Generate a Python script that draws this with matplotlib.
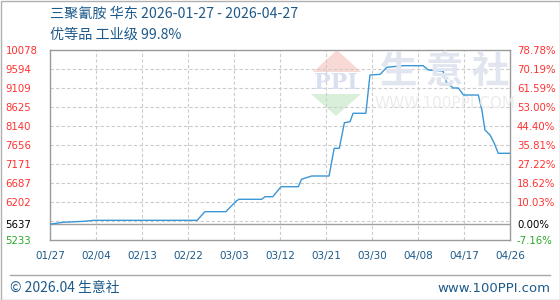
import matplotlib
matplotlib.use("Agg")
import matplotlib.pyplot as plt
from matplotlib.patches import Polygon, Rectangle
from matplotlib.lines import Line2D
import numpy as np

plt.rcParams['font.family'] = ['Noto Sans CJK SC', 'DejaVu Sans']

# ---- data ----
title_line1 = "三聚氰胺 华东 2026-01-27 - 2026-04-27"
title_line2 = "优等品 工业级 99.8%"
x_labels = ["01/27", "02/04", "02/13", "02/22", "03/03", "03/12",
            "03/21", "03/30", "04/08", "04/17", "04/26"]
x_tick_days = [0, 9, 18, 27, 36, 45, 54, 63, 72, 81, 90]
days = [0, 1.6, 2.5, 6.7, 8.6, 28.8, 30.3, 34.4, 36.5, 37.0, 41.4, 42.1,
        43.6, 45.2, 48.6, 49.2, 51.2, 54.6, 55.6, 56.6, 57.6, 58.7, 59.3,
        61.8, 62.6, 64.6, 65.9, 69.1, 73.0, 74.0, 76.9, 77.6, 78.9, 79.9,
        80.9, 83.8, 84.5, 85.1, 86.1, 86.9, 87.7, 90]
prices = [5637, 5666, 5684, 5710, 5735, 5735, 5955, 5955, 6235, 6271, 6271,
          6337, 6337, 6592, 6592, 6781, 6865, 6865, 7571, 7571, 8224, 8250,
          8464, 8464, 9440, 9458, 9637, 9678, 9678, 9568, 9543, 9244, 9109,
          9109, 8930, 8930, 8548, 8038, 7910, 7706, 7444, 7444]
base_price = 5637
y_min, y_max = 5233, 10078
left_ticks = [10078, 9594, 9109, 8625, 8140, 7656, 7171, 6687, 6202, 5637, 5233]
left_labels = ["10078", "9594", "9109", "8625", "8140", "7656", "7171",
               "6687", "6202", "5637", "5233"]
right_labels = ["78.78%", "70.19%", "61.59%", "53.00%", "44.40%", "35.81%",
                "27.22%", "18.62%", "10.03%", "0.00%", "-7.16%"]

# ---- figure ----
W, H = 560, 300
fig = plt.figure(figsize=(W / 100, H / 100), dpi=100)
fig.patch.set_facecolor("white")
ax = fig.add_axes([50 / W, 60 / H, 460 / W, 190 / H])

blue_text = "#1d5a8a"
red = "#ff3030"
green = "#2aa82a"

# watermark
wm_tr = fig.transFigure
def px(x, y):
    return (x / W, 1 - y / H)
ax.add_patch(Polygon([px(313, 72), px(337, 50), px(361, 72)], closed=True,
                     transform=wm_tr, facecolor="#f9d9d6", edgecolor="none", zorder=0))
ax.add_patch(Polygon([px(311, 94), px(361, 94), px(336, 116)], closed=True,
                     transform=wm_tr, facecolor="#d9efd9", edgecolor="none", zorder=0))
fig.text(336 / W, 1 - 83 / H, "PPI", fontsize=16, color="#d8dff0",
         family="DejaVu Serif", fontweight="bold", ha="center", va="center", zorder=0)
fig.text(445 / W, 1 - 71 / H, "生 意 社", fontsize=27, color="#e0e5ef",
         fontweight="bold", ha="center", va="center", zorder=0)
fig.text(445 / W, 1 - 104 / H, "WWW.100PPI.COM", fontsize=11, color="#ececec",
         family="DejaVu Sans", ha="center", va="center", zorder=0)
ax.set_facecolor("none")

# grid
for lv in np.linspace(y_min, y_max, 11)[1:-1]:
    ax.axhline(lv, color="#cccccc", lw=0.8, ls=(0, (3, 2)), zorder=1)
for d in x_tick_days[1:-1]:
    ax.axvline(d, color="#cccccc", lw=0.8, ls=(0, (3, 2)), zorder=1)
ax.axhline(base_price, color="#a0a0a0", lw=1.0, zorder=1)

ax.plot(days, prices, color="#3a96d6", lw=1.0, zorder=3)

ax.set_xlim(0, 90)
ax.set_ylim(y_min, y_max)
for s in ax.spines.values():
    s.set_color("#9a9a9a")
    s.set_linewidth(1.0)

ax.set_xticks(x_tick_days)
ax.set_xticklabels(x_labels, fontsize=7.5, color=blue_text, family="DejaVu Sans")
ax.tick_params(axis="x", length=0, pad=8)

ax.set_yticks(left_ticks)
ax.set_yticklabels(left_labels, fontsize=7.3, family="DejaVu Sans")
ax.tick_params(axis="y", length=0, pad=32)
for lbl in ax.get_yticklabels():
    lbl.set_horizontalalignment("left")
    lbl.set_color(red)
ax.get_yticklabels()[-2].set_color("black")
ax.get_yticklabels()[-1].set_color(green)

ax2 = ax.twinx()
ax2.set_ylim(y_min, y_max)
ax2.set_yticks(left_ticks)
ax2.set_yticklabels(right_labels, fontsize=7.3, family="DejaVu Sans")
ax2.tick_params(axis="y", length=0, pad=5)
for lbl in ax2.get_yticklabels():
    lbl.set_color(red)
ax2.get_yticklabels()[-2].set_color("black")
ax2.get_yticklabels()[-1].set_color(green)
for s in ax2.spines.values():
    s.set_visible(False)

# titles
fig.text(50 / W, 1 - 14 / H, title_line1, fontsize=10.2, color=blue_text, va="center")
fig.text(50 / W, 1 - 35 / H, title_line2, fontsize=10.2, color=blue_text, va="center")

# footer
fig.add_artist(Line2D([10 / W, 550 / W], [1 - 275 / H, 1 - 275 / H],
                      transform=fig.transFigure, color="#a8a8a8", lw=1.0))
fig.text(10 / W, 1 - 288 / H, "© 2026.04 生意社", fontsize=10, color=blue_text, va="center")
fig.text(550 / W, 1 - 288 / H, "www.100PPI.com", fontsize=9.5, color=blue_text,
         va="center", ha="right", family="DejaVu Sans")
fig.add_artist(Rectangle((0.5 / W, 0.5 / H), 1 - 1 / W, 1 - 1 / H,
                         transform=fig.transFigure, fill=False,
                         edgecolor="#b0b0b0", lw=1.0))

fig.savefig("out.png", dpi=100)
